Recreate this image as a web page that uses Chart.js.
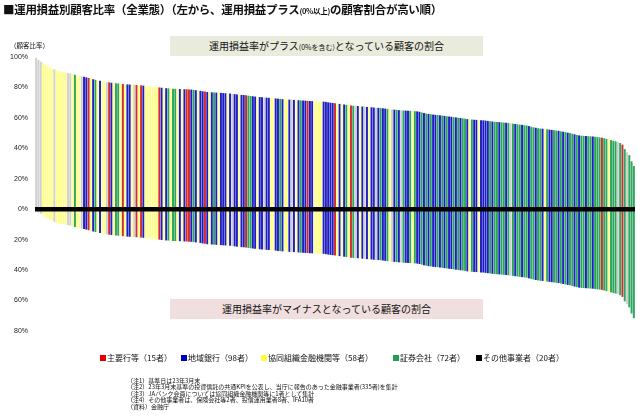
<!DOCTYPE html>
<html lang="ja">
<head>
<meta charset="utf-8">
<script src="https://cdn.jsdelivr.net/npm/chart.js@4"></script>
<style>
  html, body { margin: 0; padding: 0; background: #fff; }
  body { width: 640px; height: 417px; position: relative; overflow: hidden;
         font-family: "Noto Sans CJK JP", "Noto Sans", sans-serif; color: #111; }
  #chart { position: absolute; left: 0; top: 0; }
  .abs { position: absolute; white-space: nowrap; pointer-events: none; }
  #title { left: 3px; top: 1px; font-size: 11.5px; font-weight: bold; letter-spacing: -0.3px; }
  #title small { font-size: 7.5px; font-weight: bold; }
  #yname { left: 10px; top: 40px; font-size: 6.5px; }
  .band { left: 170px; width: 313px; height: 20px; line-height: 20px; text-align: center; font-size: 10px; }
  .band small { font-size: 7px; }
  #bandUp { top: 36px; background: #e9ecdd; }
  #bandDown { top: 299px; background: #f1dfe0; }
  .leg { top: 352px; font-size: 8px; }
  .leg i { display: inline-block; width: 6px; height: 6px; margin-right: 1px; vertical-align: 0; }
  #notes { left: 127px; top: 378px; font-size: 6px; }
  #notes div { height: 6.4px; line-height: 6.4px; }
</style>
</head>
<body>
<canvas id="chart" width="640" height="417"></canvas>
<div id="title" class="abs">■運用損益別顧客比率（全業態）（左から、運用損益プラス<small>(0%以上)</small>の顧客割合が高い順）</div>
<div id="yname" class="abs">（顧客比率）</div>
<div id="bandUp" class="abs band">運用損益率がプラス<small>(0%を含む)</small>となっている顧客の割合</div>
<div id="bandDown" class="abs band">運用損益率がマイナスとなっている顧客の割合</div>
<div id="legend"></div>
<div id="notes" class="abs">
  <div>（注1）基準日は23年3月末</div>
  <div>（注2）23年3月末基準の投資信託の共通KPIを公表し、当庁に報告のあった金融事業者(335者)を集計</div>
  <div>（注3）JAバンク会員については協同組織金融機関等に1者として集計</div>
  <div>（注4）その他事業者は、保険会社等2者、投信運用業者8者、IFA10者</div>
  <div>（資料）金融庁</div>
</div>
<script>
// 業態コード（左から順）: R=主要行等, B=地域銀行, Y=協同組織金融機関等, G=証券会社, O=その他
const bankTypes = (
  "OOOYYYYYOYYYYYOOYG" + "YYOBBRYBGYBYYORBYGGY" +
  "RYBBYORYRBYYYYYYRBYBGYGG" + "YBYBRRBGBYBBRBYBGBYB" +
  "BBYBOBBYBB" + "RGGBBYBBOB" + "BYYBBGBYYB" + "OBYBGBBRBB" +
  "YYYYBBBBBR" + "YBYBGYRGOB" + "YBOBYBBOBG" + "BBGYOBGBOG" + "BBGYGBBG" +
  "BGBGBBGBGBGBBGBGBGGB" + "YGBBYBBBBGBG" + "GBGGBGOGBGGBGGBGGBGGB" + "Y" +
  "GBBGGBGBGBGGBGBG" + "GBGGBGGGRGGYGGGOGRGOGGG"
).split("");

// 運用損益がプラス（0%含む）の顧客割合
const plusShare = [
  99.5, 98, 97, 96, 95, 94, 93.2, 92.5, 91.8, 91, 90.6, 90.3, 90, 89.8, 89.5, 89.2, 88.8, 88.3, 88, 87.6,
  87.3, 87, 86.6, 86.2, 85.8, 85.4, 85, 84.7, 84.4, 84.1, 83.8, 83.5, 83.3, 83.1, 82.9, 82.8, 82.6, 82.5, 82.3, 82.1,
  82, 81.9, 81.8, 81.7, 81.6, 81.5, 81.4, 81.2, 81, 80.8, 80.6, 80.4, 80.3, 80.1, 80, 79.8, 79.7, 79.5, 79.4, 79.3,
  79.2, 79.1, 79, 79, 78.9, 78.8, 78.8, 78.7, 78.6, 78.4, 78.2, 78, 77.8, 77.5, 77.3, 77, 76.9, 76.8, 76.7, 76.6,
  76.5, 76.4, 76.3, 76.2, 76.1, 76, 75.8, 75.6, 75.4, 75.2, 75.1, 75, 74.8, 74.6, 74.4, 74.2, 74, 73.8, 73.7, 73.5,
  73.4, 73.3, 73.2, 73, 72.9, 72.8, 72.6, 72.5, 72.3, 72.2, 72.1, 72, 71.9, 71.8, 71.7, 71.6, 71.5, 71.4, 71.3, 71.2,
  71.1, 71, 70.9, 70.8, 70.8, 70.7, 70.7, 70.5, 70.2, 70, 69.8, 69.6, 69.4, 69.2, 69, 68.8, 68.6, 68.4, 68.2, 68,
  67.9, 67.8, 67.6, 67.5, 67.4, 67.2, 67.1, 67, 66.8, 66.7, 66.6, 66.5, 66.3, 66.1, 65.9, 65.8, 65.6, 65.4, 65.3, 65.1,
  65, 64.9, 64.8, 64.7, 64.6, 64.5, 64.4, 64.3, 64, 63.6, 63.2, 62.9, 62.6, 62.4, 62.2, 62, 61.9, 61.7, 61.5, 61.3,
  61.1, 60.9, 60.7, 60.5, 60.3, 60.1, 59.9, 59.7, 59.5, 59.2, 59, 58.9, 58.8, 58.7, 58.6, 58.5, 58.4, 58.2, 58, 57.8,
  57.6, 57.4, 57.3, 57.2, 57.1, 56.9, 56.8, 56.6, 56.4, 56.2, 56, 55.8, 55.6, 55.4, 55.2, 55, 54.6, 54.2, 53.8, 53.5,
  53.2, 53, 52.9, 52.7, 52.5, 52.3, 52.1, 51.9, 51.7, 51.5, 51.2, 50.9, 50.6, 50.3, 50, 49.6, 49.2, 48.8, 48.5, 48.3,
  48.2, 48.1, 48, 47.9, 47.8, 47.6, 47.4, 47.2, 47, 46.6, 46.2, 45.8, 45.4, 45, 44.6, 44.2, 43.5, 42.4, 39.5, 37.5, 35.5, 31.5, 28.4
];

// 運用損益がマイナスの顧客割合（下向き）
const minusShare = [
  -0.5, -2, -3, -4, -5, -6, -6.8, -7.5, -8.2, -9, -9.4, -9.7, -10, -10.2, -10.5, -10.8, -11.2, -11.7, -12, -12.4,
  -12.7, -13, -13.4, -13.8, -14.2, -14.6, -15, -15.3, -15.6, -15.9, -16.2, -16.5, -16.7, -16.9, -17.1, -17.2, -17.4, -17.5, -17.7, -17.9,
  -18, -18.1, -18.2, -18.3, -18.4, -18.5, -18.6, -18.8, -19, -19.2, -19.4, -19.6, -19.7, -19.9, -20, -20.2, -20.3, -20.5, -20.6, -20.7,
  -20.8, -20.9, -21, -21, -21.1, -21.2, -21.2, -21.3, -21.4, -21.6, -21.8, -22, -22.2, -22.5, -22.7, -23, -23.1, -23.2, -23.3, -23.4,
  -23.5, -23.6, -23.7, -23.8, -23.9, -24, -24.2, -24.4, -24.6, -24.8, -24.9, -25, -25.2, -25.4, -25.6, -25.8, -26, -26.2, -26.3, -26.5,
  -26.6, -26.7, -26.8, -27, -27.1, -27.2, -27.4, -27.5, -27.7, -27.8, -27.9, -28, -28.1, -28.2, -28.3, -28.4, -28.5, -28.6, -28.7, -28.8,
  -28.9, -29, -29.1, -29.2, -29.2, -29.3, -29.3, -29.5, -29.8, -30, -30.2, -30.4, -30.6, -30.8, -31, -31.2, -31.4, -31.6, -31.8, -32,
  -32.1, -32.2, -32.4, -32.5, -32.6, -32.8, -32.9, -33, -33.2, -33.3, -33.4, -33.5, -33.7, -33.9, -34.1, -34.2, -34.4, -34.6, -34.7, -34.9,
  -35, -35.1, -35.2, -35.3, -35.4, -35.5, -35.6, -35.7, -36, -36.4, -36.8, -37.1, -37.4, -37.6, -37.8, -38, -38.1, -38.3, -38.5, -38.7,
  -38.9, -39.1, -39.3, -39.5, -39.7, -39.9, -40.1, -40.3, -40.5, -40.8, -41, -41.1, -41.2, -41.3, -41.4, -41.5, -41.6, -41.8, -42, -42.2,
  -42.4, -42.6, -42.7, -42.8, -42.9, -43.1, -43.2, -43.4, -43.6, -43.8, -44, -44.2, -44.4, -44.6, -44.8, -45, -45.4, -45.8, -46.2, -46.5,
  -46.8, -47, -47.1, -47.3, -47.5, -47.7, -47.9, -48.1, -48.3, -48.5, -48.8, -49.1, -49.4, -49.7, -50, -50.4, -50.8, -51.2, -51.5, -51.7,
  -51.8, -51.9, -52, -52.1, -52.2, -52.4, -52.6, -52.8, -53, -53.4, -53.8, -54.2, -54.6, -55, -55.4, -55.8, -56.5, -57.6, -60.5, -62.5, -64.5, -68.5, -71.6
];

// 凡例
const typeCodes  = ["R", "B", "Y", "G", "O"];
const typeLabels = ["主要行等（15者）", "地域銀行（98者）", "協同組織金融機関等（58者）", "証券会社（72者）", "その他事業者（20者）"];
const yTicks = [100, 80, 60, 40, 20, 0, -20, -40, -60, -80];

const barColors  = { R: "#d42a2a", B: "#1e1ec4", Y: "#ffff8c", G: "#2ca65c", O: "#cfcfcf" };
const legendColors = { R: "#e00000", B: "#0000c0", Y: "#ffff40", G: "#20a050", O: "#000000" };
const legendLeft = [100, 181, 261, 393, 476];

// 凡例（HTML）
const legendBox = document.getElementById("legend");
typeCodes.forEach((c, i) => {
    const d = document.createElement("div");
    d.className = "abs leg";
    d.style.left = legendLeft[i] + "px";
    d.innerHTML = '<i style="background:' + legendColors[c] + '"></i>' + typeLabels[i];
    legendBox.appendChild(d);
});

const ctx = document.getElementById("chart").getContext("2d");
new Chart(ctx, {
    type: "bar",
    data: {
        labels: plusShare.map((_, i) => i + 1),
        datasets: [{
            data: plusShare.map((p, i) => [minusShare[i], p]),
            backgroundColor: bankTypes.map(c => barColors[c]),
            borderWidth: 0,
            barPercentage: 0.85,
            categoryPercentage: 1
        }]
    },
    options: {
        responsive: false,
        animation: false,
        layout: { padding: { top: 57, bottom: 86, left: 0, right: 5 } },
        plugins: { legend: { display: false }, tooltip: { enabled: false } },
        scales: {
            x: { display: false },
            y: {
                min: -80,
                max: 100,
                afterFit: (s) => { s.width = 35; },
                afterBuildTicks: (s) => { s.ticks = yTicks.map(v => ({ value: v })); },
                border: { display: false },
                grid: {
                    z: 1,  // 0%線は棒の上に
                    drawTicks: false,
                    color: (c) => c.tick && c.tick.value === 0 ? "#000" : "rgba(0,0,0,0)",
                    lineWidth: (c) => c.tick && c.tick.value === 0 ? 4.5 : 0
                },
                ticks: {
                    padding: 7,
                    color: "#222",
                    font: { size: 7, family: "'Liberation Sans', Arial, sans-serif" },
                    callback: (v) => Math.abs(v) + "%"
                }
            }
        }
    }
});
</script>
</body>
</html>
